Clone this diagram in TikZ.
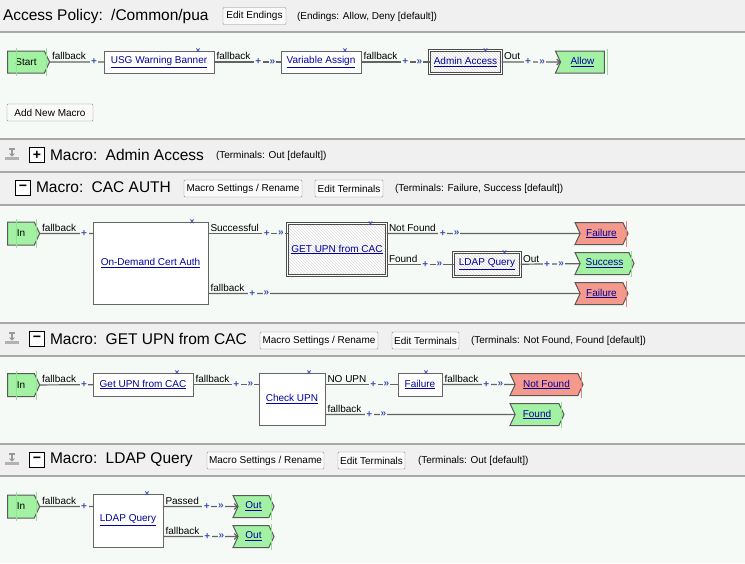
\documentclass[tikz,border=0pt]{standalone}
\usepackage{fontspec}
\setmainfont{Liberation Sans}
\usetikzlibrary{shapes.symbols,patterns,arrows.meta}
\definecolor{bandgray}{HTML}{F0F0F0}
\definecolor{rulegray}{HTML}{A8A8A8}
\definecolor{mint}{HTML}{F5FAF7}
\definecolor{termgreen}{HTML}{A3F2A3}
\definecolor{termred}{HTML}{F5998C}
\definecolor{tickgreen}{HTML}{8FE68F}
\definecolor{tickred}{HTML}{F08070}
\definecolor{linkblue}{HTML}{00009C}
\definecolor{markblue}{HTML}{4050B0}
\definecolor{wiregray}{HTML}{636363}

\begin{document}
\begin{tikzpicture}[x=1pt, y=-1pt, font=\fontsize{10}{12}\selectfont,
    every node/.style={inner sep=0pt, outer sep=0pt},
    title/.style={anchor=west, font=\fontsize{15.5}{18}\selectfont},
    note/.style={anchor=west},
    btn/.style={draw=black!45, fill=black!2, rounded corners=1pt, minimum height=17pt},
    toggle/.style={draw=black, line width=0.9pt, fill=white, minimum size=15pt, font=\fontsize{14}{14}\selectfont\bfseries},
    wire/.style={draw=wiregray, line width=1.2pt},
    inarrow/.style={wire, -{Straight Barb[length=3pt,width=6pt]}},
    lbl/.style={anchor=south west, xshift=2.5pt, yshift=2pt},
    plus/.style={text=markblue, fill=mint, inner xsep=1.5pt, font=\fontsize{10}{10}\selectfont\bfseries},
    chev/.style={text=markblue, fill=mint, inner xsep=1pt, font=\fontsize{10}{10}\selectfont\bfseries},
    xmark/.style={text=markblue, font=\fontsize{8.5}{8.5}\selectfont\bfseries},
    term/.style={signal, draw=black!65, line width=1pt, signal pointer angle=130, minimum height=22pt},
    startterm/.style={term, fill=termgreen, signal to=east},
    endgreen/.style={term, fill=termgreen, signal from=west, signal to=east, text=linkblue},
    endred/.style={term, fill=termred, signal from=west, signal to=east, text=linkblue},
    act/.style={draw=black!60, line width=1pt, fill=white, minimum height=22pt, text=linkblue},
    mac/.style={act, draw=black!70, line width=0.8pt, double=white, double distance=1.5pt,
      preaction={fill=white}, pattern=north west lines, pattern color=black!14}]
  \useasboundingbox (0,0) rectangle (745,563);

  % bands and bodies
  \fill[bandgray] (0,0) rectangle (745,32);
  \fill[mint] (0,32) rectangle (745,139);
  \fill[bandgray] (0,139) rectangle (745,205);
  \fill[mint] (0,205) rectangle (745,323);
  \fill[bandgray] (0,323) rectangle (745,356);
  \fill[mint] (0,356) rectangle (745,444);
  \fill[bandgray] (0,444) rectangle (745,476);
  \fill[mint] (0,476) rectangle (745,563);
  \foreach \y in {32,139,172,205,323,356,444,476}
    \draw[rulegray, line width=1.5pt] (0,\y) -- (745,\y);
  \foreach \y in {155,339,460} {
    \fill[black!30] (5,\y+2) rectangle (19,\y+5);
    \draw[black!40, line width=1.2pt] (9,\y-6) -- (15,\y-6) (12,\y-6) -- (12,\y+1);
    \draw[black!40, line width=1pt] (9.5,\y-1.5) -- (12,\y+1) -- (14.5,\y-1.5);
  }

  % header
  \node[title] (ptitle) at (3,16) {Access Policy:\, /Common/pua};
  \node[btn, minimum width=63pt] (edend) at (254.5,16) {Edit Endings};
  \node[note] (endings) at (297,16.5) {(Endings: Allow, Deny [default])};

  % main policy
  \node[startterm, minimum width=42pt] (start) at (26,62) {Start};
  \node[act, minimum width=110pt] (usg) at (159,62) {\underline{USG Warning Banner}};
  \node[act, minimum width=80pt] (va) at (321,62) {\underline{Variable Assign}};
  \node[mac, minimum width=72pt, minimum height=23pt] (admin) at (465.5,62) {\underline{Admin Access}};
  \node[term, fill=termgreen, signal from=west, signal to=nowhere, text=linkblue, minimum width=49pt] (allow) at (582.5,62) {\underline{Allow}};
  \node[btn, minimum width=86pt] (addmacro) at (50,112.5) {Add New Macro};

  \draw[wire] (start) -- (usg) node[lbl, at start] (f1) {fallback};
  \path ([xshift=8pt, yshift=-2pt]f1.south east) node[plus] {+};
  \draw[wire] (usg) -- (va) node[lbl, at start] (f2) {fallback};
  \path ([xshift=8pt, yshift=-2pt]f2.south east) node[plus] {+} ++(14,0) node[chev] {»};
  \draw[wire] (va) -- (admin) node[lbl, at start] (f3) {fallback};
  \path ([xshift=8pt, yshift=-2pt]f3.south east) node[plus] {+} ++(14,0) node[chev] {»};
  \draw[inarrow] (admin) -- (allow) node[lbl, at start] (o1) {Out};
  \path ([xshift=8pt, yshift=-2pt]o1.south east) node[plus] {+} ++(14,0) node[chev] {»};

  % macro: admin access (collapsed)
  \node[toggle] (tg1) at (37,155) {+};
  \node[title] (m1) at (50,154.5) {Macro:\, Admin Access};
  \node[note] (m1t) at (216,156) {(Terminals: Out [default])};

  % macro: cac auth
  \node[toggle] (tg2) at (23,188) {−};
  \node[title] (m2) at (36,187.5) {Macro:\, CAC AUTH};
  \node[btn, minimum width=118pt] (m2set) at (243,188.5) {Macro Settings / Rename};
  \node[btn, minimum width=68pt] (m2edit) at (349,188.5) {Edit Terminals};
  \node[note] (m2t) at (395,189) {(Terminals: Failure, Success [default])};

  \node[startterm, minimum width=32pt, minimum height=23pt] (in2) at (21,233.5) {In};
  \node[act, minimum width=115pt, minimum height=82pt] (cert) at (150.5,263) {\underline{On-Demand Cert Auth}};
  \node[mac, minimum width=99pt, minimum height=52pt] (gupn) at (337,249.5) {\underline{GET UPN from CAC}};
  \node[endred, minimum width=53pt] (fail1) at (601.5,233.5) {\underline{Failure}};
  \node[mac, minimum width=67pt, minimum height=24pt] (ldapA) at (487,264.5) {\underline{LDAP Query}};
  \node[endgreen, minimum width=59pt] (succ) at (604.5,263.5) {\underline{Success}};
  \node[endred, minimum width=53pt] (fail2) at (601.5,293.5) {\underline{Failure}};

  \draw[wire] (in2) -- (cert.west |- in2) node[lbl, at start] (f4) {fallback};
  \path ([xshift=8pt, yshift=-2pt]f4.south east) node[plus] {+};
  \draw[wire] (cert.east |- in2) -- (gupn.west |- in2) node[lbl, at start] (s1) {Successful};
  \path ([xshift=8pt, yshift=-2pt]s1.south east) node[plus] {+} ++(14,0) node[chev] {»};
  \draw[wire] (gupn.east |- fail1) -- (fail1) node[lbl, at start] (n1) {Not Found};
  \path ([xshift=7pt, yshift=-2pt]n1.south east) node[plus] {+} ++(14,0) node[chev] {»};
  \draw[wire] (gupn.east |- ldapA) -- (ldapA) node[lbl, at start] (d1) {Found};
  \path ([xshift=8pt, yshift=-2pt]d1.south east) node[plus] {+} ++(14,0) node[chev] {»};
  \draw[wire] (ldapA) -- (succ) node[lbl, at start] (o2) {Out};
  \path ([xshift=8pt, yshift=-2pt]o2.south east) node[plus] {+} ++(14,0) node[chev] {»};
  \draw[wire] (cert.east |- fail2) -- (fail2) node[lbl, at start] (f5) {fallback};
  \path ([xshift=8pt, yshift=-2pt]f5.south east) node[plus] {+} ++(14,0) node[chev] {»};

  % macro: get upn from cac
  \node[toggle] (tg3) at (37,339) {−};
  \node[title] (m3) at (50,338.5) {Macro:\, GET UPN from CAC};
  \node[btn, minimum width=118pt] (m3set) at (319,340.5) {Macro Settings / Rename};
  \node[btn, minimum width=67pt] (m3edit) at (425.5,340.5) {Edit Terminals};
  \node[note] (m3t) at (471,341) {(Terminals: Not Found, Found [default])};

  \node[startterm, minimum width=32pt, minimum height=23pt] (in3) at (21,385) {In};
  \node[act, minimum width=100pt, minimum height=23pt] (gfc) at (143,384.5) {\underline{Get UPN from CAC}};
  \node[act, minimum width=66pt, minimum height=52pt] (check) at (292,399) {\underline{Check UPN}};
  \node[act, minimum width=44pt, minimum height=23pt] (failB) at (420,384.5) {\underline{Failure}};
  \node[endred, minimum width=73pt] (nf) at (546.5,384.5) {\underline{Not Found}};
  \node[endgreen, minimum width=54pt] (found) at (537,414.5) {\underline{Found}};

  \draw[wire] (in3) -- (gfc) node[lbl, at start] (f6) {fallback};
  \path ([xshift=8pt, yshift=-2pt]f6.south east) node[plus] {+};
  \draw[wire] (gfc) -- (check.west |- gfc) node[lbl, at start] (f7) {fallback};
  \path ([xshift=7pt, yshift=-2pt]f7.south east) node[plus] {+} ++(14,0) node[chev] {»};
  \draw[wire] (check.east |- failB) -- (failB) node[lbl, at start] (u1) {NO UPN};
  \path ([xshift=7pt, yshift=-2pt]u1.south east) node[plus] {+} ++(13,0) node[chev] {»};
  \draw[wire] (failB) -- (nf) node[lbl, at start] (f8) {fallback};
  \path ([xshift=8pt, yshift=-2pt]f8.south east) node[plus] {+} ++(14,0) node[chev] {»};
  \draw[wire] (check.east |- found) -- (found) node[lbl, at start] (f9) {fallback};
  \path ([xshift=8pt, yshift=-2pt]f9.south east) node[plus] {+} ++(14,0) node[chev] {»};

  % macro: ldap query
  \node[toggle] (tg4) at (37,460) {−};
  \node[title] (m4) at (50,459.5) {Macro:\, LDAP Query};
  \node[btn, minimum width=117pt] (m4set) at (265.5,460.5) {Macro Settings / Rename};
  \node[btn, minimum width=67pt] (m4edit) at (371.5,460.5) {Edit Terminals};
  \node[note] (m4t) at (418,461) {(Terminals: Out [default])};

  \node[startterm, minimum width=32pt, minimum height=23pt] (in4) at (21,506.5) {In};
  \node[act, minimum width=70pt, minimum height=53pt] (lq) at (128,520.5) {\underline{LDAP Query}};
  \node[endgreen, minimum width=41pt] (out1) at (253.5,506.5) {\underline{Out}};
  \node[endgreen, minimum width=41pt] (out2) at (253.5,536.5) {\underline{Out}};

  \draw[wire] (in4) -- (lq.west |- in4) node[lbl, at start] (f10) {fallback};
  \path ([xshift=8pt, yshift=-2pt]f10.south east) node[plus] {+};
  \draw[inarrow] (lq.east |- out1) -- (out1) node[lbl, at start] (p1) {Passed};
  \path ([xshift=8pt, yshift=-2pt]p1.south east) node[plus] {+} ++(14,0) node[chev] {»};
  \draw[inarrow] (lq.east |- out2) -- (out2) node[lbl, at start] (f11) {fallback};
  \path ([xshift=8pt, yshift=-2pt]f11.south east) node[plus] {+} ++(14,0) node[chev] {»};

  % delete marks and terminal ticks
  \foreach \b in {usg, va, admin, cert, gupn, ldapA, gfc, check, failB, lq}
    \node[xmark] at ([xshift=-16pt, yshift=-0.5pt]\b.north east) {×};
  \foreach \t in {start, in2, in3, in4}
    \draw[tickgreen, line width=0.8pt] ([xshift=2pt, yshift=3pt]\t.north east) -- ([xshift=2pt, yshift=-3pt]\t.south east)
      ([xshift=9pt, yshift=3pt]\t.north west) -- ([xshift=9pt, yshift=-3pt]\t.south west);
  \foreach \t in {allow, succ, found, out1, out2}
    \draw[tickgreen, line width=0.8pt] ([xshift=3pt, yshift=2pt]\t.north east) -- ([xshift=3pt, yshift=-2pt]\t.south east);
  \foreach \t in {fail1, fail2, nf}
    \draw[tickred, line width=0.8pt] ([xshift=4pt, yshift=2pt]\t.north east) -- ([xshift=4pt, yshift=-2pt]\t.south east);
\end{tikzpicture}
\end{document}
